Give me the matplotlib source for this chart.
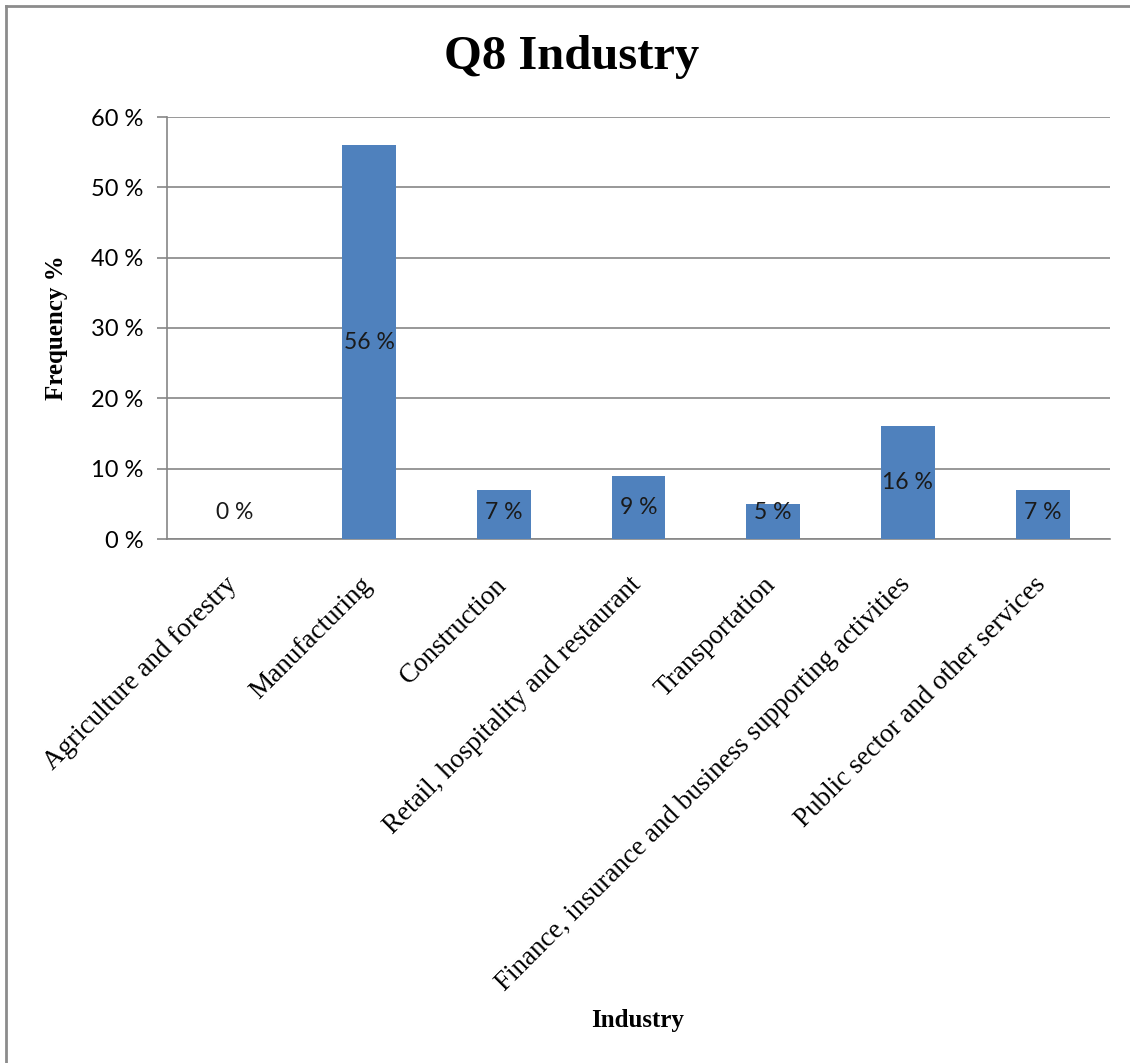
import matplotlib
matplotlib.use("Agg")
import matplotlib.pyplot as plt
from matplotlib.lines import Line2D
import matplotlib.transforms as mtransforms

categories = ["Agriculture and forestry", "Manufacturing", "Construction",
              "Retail, hospitality and restaurant", "Transportation",
              "Finance, insurance and business supporting activities",
              "Public sector and other services"]
values = [0, 56, 7, 9, 5, 16, 7]
yticks = [0, 10, 20, 30, 40, 50, 60]
ytick_labels = ["0 %", "10 %", "20 %", "30 %", "40 %", "50 %", "60 %"]

BAR = "#4F81BD"
GRID = "#868686"
SANS = ["Lato", "DejaVu Sans"]
SERIF = ["Liberation Serif", "DejaVu Serif"]

fig = plt.figure(figsize=(11.3, 10.63), dpi=100)
ax = fig.add_axes([167/1130, 1-539/1063, (1110-167)/1130, (539-117)/1063])

x = list(range(len(categories)))
ax.bar(x, values, width=0.4, color=BAR, zorder=3)
ax.set_xlim(-0.5, len(categories)-0.5)
ax.set_ylim(0, 60)

ax.set_yticks(yticks)
ax.set_yticklabels(ytick_labels, family=SANS, fontsize=17)
ax.tick_params(axis="y", length=7, color=GRID, width=1.2, pad=10)
ax.set_xticks(x)
ax.set_xticklabels(categories, family=SERIF, fontsize=19.5, rotation=45,
                   ha="right", va="top", rotation_mode="anchor")
ax.tick_params(axis="x", length=0, pad=24)
offset = mtransforms.ScaledTranslation(-10/100, 0, fig.dpi_scale_trans)
for lab in ax.get_xticklabels():
    lab.set_transform(lab.get_transform() + offset)

ax.grid(axis="y", color=GRID, linewidth=1.2, zorder=0)
for s in ["top", "right"]:
    ax.spines[s].set_visible(False)
for s in ["left", "bottom"]:
    ax.spines[s].set_color(GRID)
    ax.spines[s].set_linewidth(1.2)

for xi, v in zip(x, values):
    ax.text(xi, max(v/2, 3.8), f"{v} %", ha="center", va="center",
            family=SANS, fontsize=16.5, color="#1a1a1a", zorder=4)

fig.text(0.506, 1-57/1063, "Q8 Industry", ha="center", va="center",
         family=SERIF, fontweight="bold", fontsize=35)
fig.text(56/1130, 1-328/1063, "Frequency %", ha="center", va="center",
         rotation=90, family=SERIF, fontweight="bold", fontsize=18)
fig.text(638/1130, 1-1020/1063, "Industry", ha="center", va="center",
         family=SERIF, fontweight="bold", fontsize=18)

# outer chart border (left and top visible)
fig.add_artist(Line2D([6/1130, 6/1130], [0, 1-6/1063], transform=fig.transFigure,
                      color="#8c8c8c", linewidth=2))
fig.add_artist(Line2D([6/1130, 1], [1-6/1063, 1-6/1063], transform=fig.transFigure,
                      color="#8c8c8c", linewidth=2))

fig.savefig("out.png", dpi=100, facecolor="white")
